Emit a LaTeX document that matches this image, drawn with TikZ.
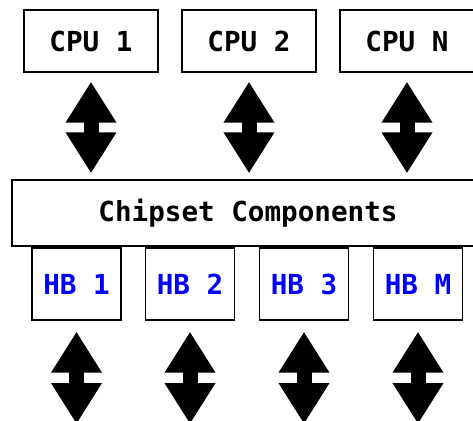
\documentclass[tikz,border=0pt]{standalone}
\usepackage{fontspec}
\setmonofont{DejaVu Sans Mono}
\usepackage{xcolor}
\usetikzlibrary{arrows.meta}

\begin{document}
\begin{tikzpicture}[x=1pt, y=1pt,
		unit/.style={draw, line width=1.4pt, fill=white, inner sep=0pt},
		cpubox/.style={unit, minimum width=134pt, minimum height=62pt},
		hbbox/.style={unit, minimum width=89pt, minimum height=72pt, text=blue},
		bus/.style={line width=15pt, {Triangle[length=41pt,width=48pt]}-{Triangle[length=41pt,width=48pt]}}]
					\ttfamily\bfseries\fontsize{27.6pt}{32pt}\selectfont
					\useasboundingbox (0,0) rectangle (473,420);
					\clip (0,0) rectangle (473,420);
					
					% processors on top
					\node[cpubox] (cpu1) at (91,379) {CPU 1};
					\node[cpubox] (cpu2) at (249,379) {CPU 2};
					\node[cpubox] (cpun) at (407,379) {CPU N};
					
					\node[unit, minimum width=472pt, minimum height=66pt] (chip) at (248,207) {Chipset Components};
					
					% host bridges under the chipset
					\node[hbbox] (hb1) at (76.5,136) {HB 1};
					\node[hbbox] (hb2) at (190,136) {HB 2};
					\node[hbbox] (hb3) at (304,136) {HB 3};
					\node[hbbox] (hbm) at (418,136) {HB M};
					
					\draw[bus, shorten <=9pt, shorten >=6pt] (cpu1.south) -- (cpu1.south |- chip.north);
					\draw[bus, shorten <=9pt, shorten >=6pt] (cpu2.south) -- (cpu2.south |- chip.north);
					\draw[bus, shorten <=9pt, shorten >=6pt] (cpun.south) -- (cpun.south |- chip.north);
					
					\coordinate (floor) at (0,-4);
					\draw[bus, shorten <=11pt] (hb1.south) -- (hb1.south |- floor);
					\draw[bus, shorten <=11pt] (hb2.south) -- (hb2.south |- floor);
					\draw[bus, shorten <=11pt] (hb3.south) -- (hb3.south |- floor);
					\draw[bus, shorten <=11pt] (hbm.south) -- (hbm.south |- floor);
				\end{tikzpicture}
\end{document}
